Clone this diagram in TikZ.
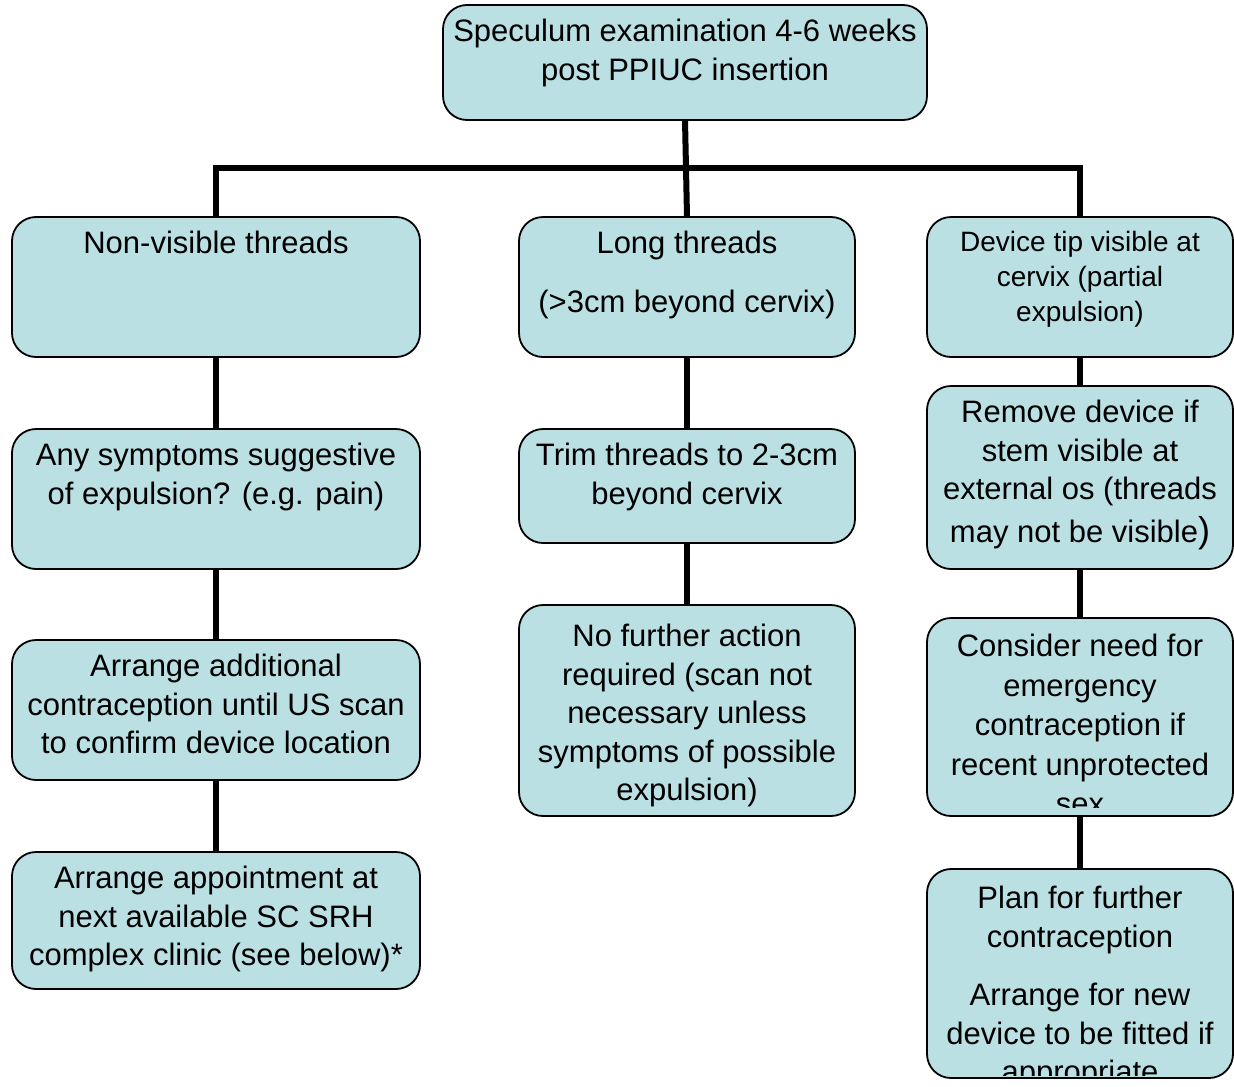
\documentclass[tikz,border=0pt]{standalone}
\usepackage{fontspec}
\setmainfont{Liberation Sans}
\usetikzlibrary{positioning}
\definecolor{boxblue}{RGB}{186,224,227}

\begin{document}
\begin{tikzpicture}[% 1 unit = 1 pixel of the original chart
		x=0.5pt,y=-0.5pt,
		every node/.style={
			align=center,		% so that "\\" breaks the lines
			inner sep=0pt
		},
		box/.style 2 args={rectangle,rounded corners=12pt,draw=black,line width=0.9pt,
			outer sep=0pt,fill=boxblue,minimum width=#1,minimum height=#2},
		txt/.style={anchor=north,yshift=-7pt,font=\fontsize{15.5}{19.25}\selectfont},
		link/.style={draw,line width=3pt}
	]
	\useasboundingbox (0,0) rectangle (1234,1086);
	% top of the chart
	\node[box={242pt}{57.5pt}](exam) at (685,62.5){};
	\coordinate (bar) at (685,168);
	% left column
	\node[box={204pt}{70pt},anchor=north](nonvis) at (216,217){};
	\node[box={204pt}{70pt}](symptoms)[below=36pt of nonvis]{};
	\node[box={204pt}{70pt}](extra)[below=35.5pt of symptoms]{};
	\node[box={204pt}{68.5pt}](appoint)[below=36pt of extra]{};
	% middle column
	\node[box={168pt}{70pt},anchor=north](longthr) at (687,217){};
	\node[box={168pt}{57pt}](trim)[below=36pt of longthr]{};
	\node[box={168pt}{105.5pt}](noaction)[below=31pt of trim]{};
	% right column
	\node[box={153pt}{70pt},anchor=north](tipvis) at (1080,217){};
	\node[box={153pt}{91.5pt}](remove)[below=14.5pt of tipvis]{};
	\node[box={153pt}{99pt}](emerg)[below=24.5pt of remove]{};
	\node[box={153pt}{104.5pt}](plan)[below=26.5pt of emerg]{};

	\node[txt](t-exam) at (exam.north){Speculum examination 4-6 weeks\\ post PPIUC insertion};
	\node[txt](t-nonvis) at (nonvis.north){Non-visible threads};
	\node[txt](t-symptoms) at (symptoms.north){Any symptoms suggestive\\ of expulsion? (e.g. pain)};
	\node[txt](t-extra) at (extra.north){Arrange additional\\ contraception until US scan\\ to confirm device location};
	\node[txt](t-appoint) at (appoint.north){Arrange appointment at\\ next available SC SRH\\ complex clinic (see below)*};
	\node[txt](t-longthr) at (longthr.north){Long threads\\[10pt] (>3cm beyond cervix)};
	\node[txt](t-trim) at (trim.north){Trim threads to 2-3cm\\ beyond cervix};
	\node[txt,yshift=-2.5pt](t-noaction) at (noaction.north){No further action\\ required (scan not\\ necessary unless\\ symptoms of possible\\ expulsion)};
	\node[txt,font=\fontsize{14}{17.5}\selectfont](t-tipvis) at (tipvis.north){Device tip visible at\\ cervix (partial\\ expulsion)};
	\node[txt](t-remove) at (remove.north){Remove device if\\ stem visible at\\ external os (threads\\[2pt] may not be visible{\fontsize{18}{19}\selectfont)}};
	% the text of these two boxes runs past their lower edge
	\begin{scope}
		\clip (emerg.north west) rectangle ([yshift=4.5pt]emerg.south east);
		\node[txt,yshift=-1pt,font=\fontsize{15.5}{19.75}\selectfont](t-emerg) at (emerg.north){Consider need for\\ emergency\\ contraception if\\ recent unprotected\\ sex};
	\end{scope}
	\begin{scope}
		\clip (plan.north west) rectangle ([yshift=1.2pt]plan.south east);
		\node[txt,yshift=-1.5pt](t-plan) at (plan.north){Plan for further\\ contraception\\[10pt] Arrange for new\\ device to be fitted if\\ appropriate};
	\end{scope}

	% connectors
	\draw[link] (nonvis.north) |- (bar) -| (tipvis.north);
	\draw[link] (exam.south) -- (longthr.north);
	\path[link]
		(nonvis) edge (symptoms)
		(symptoms) edge (extra)
		(extra) edge (appoint)
		(longthr) edge (trim)
		(trim) edge (noaction)
		(tipvis) edge (remove)
		(remove) edge (emerg)
		(emerg) edge (plan)
		;
\end{tikzpicture}
\end{document}
